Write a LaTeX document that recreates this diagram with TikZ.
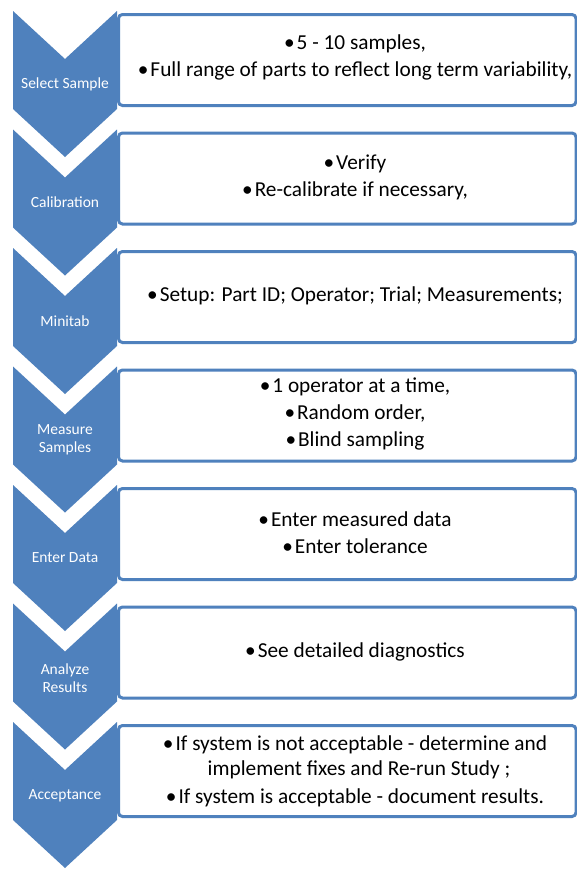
\documentclass[tikz,border=0pt]{standalone}
\usepackage{fontspec}
\setmainfont{Carlito}
\definecolor{acc}{RGB}{79,129,189}
\tikzset{
  chev/.style={fill=acc, draw=none},
  lab/.style={text=white, font=\fontsize{15.5}{17.5}\selectfont, align=center, inner sep=0pt},
  itembox/.style={draw=acc, line width=3pt, rounded corners=4pt, fill=white, anchor=north west,
                  minimum width=457.5pt, minimum height=91pt, inner sep=0pt},
  itemtext/.style={font=\fontsize{21.3}{25.5}\selectfont, align=center, text=black, inner sep=0pt}
}
\newcommand\bul{\textbullet\hspace{2pt}}
\begin{document}
\begin{tikzpicture}[x=1pt,y=-1pt]
\fill[white] (0,0) rectangle (576,870);
\useasboundingbox (0,0) rectangle (576,870);
\foreach \k in {0,...,6}{
  \pgfmathsetmacro\t{11+118.5*\k}
  \pgfmathsetmacro\bt{13+118.5*\k}
  \node[itembox] (b\k) at (117,\bt) {};
  \fill[chev] (13,\t) -- (65,\t+48) -- (117,\t) -- (117,\t+98) -- (65,\t+146) -- (13,\t+98) -- cycle;
}
\node[lab] (c0) at (65,84) {Select Sample};
\node[lab] (c1) at (65,202.5) {Calibration};
\node[lab] (c2) at (65,321) {Minitab};
\node[lab] (c3) at (65,440) {Measure\\Samples};
\node[lab] (c4) at (65,558) {Enter Data};
\node[lab] (c5) at (65,678) {Analyze\\Results};
\node[lab] (c6) at (65,796) {Acceptance};

\node[itemtext] (t0) at (355,57) {\bul 5 - 10 samples,\\[1.5pt]\bul Full range of parts to reflect long term variability,};
\node[itemtext] (t1) at (355,177) {\bul Verify\\[1.5pt]\bul Re-calibrate if necessary,};
\node[itemtext] (t2) at (355,296) {\bul Setup: Part ID; Operator; Trial; Measurements;};
\node[itemtext] (t3) at (355,414) {\bul 1 operator at a time,\\[1.5pt]\bul Random order,\\[1.5pt]\bul Blind sampling};
\node[itemtext] (t4) at (355,533) {\bul Enter measured data\\[1.5pt]\bul Enter tolerance};
\node[itemtext] (t5) at (355,652) {\bul See detailed diagnostics};
\node[itemtext] (t6) at (355,771) {\bul If system is not acceptable - determine and\\\hspace*{8pt}implement fixes and Re-run Study ;\\[2pt]\bul If system is acceptable - document results.};
\end{tikzpicture}
\end{document}
